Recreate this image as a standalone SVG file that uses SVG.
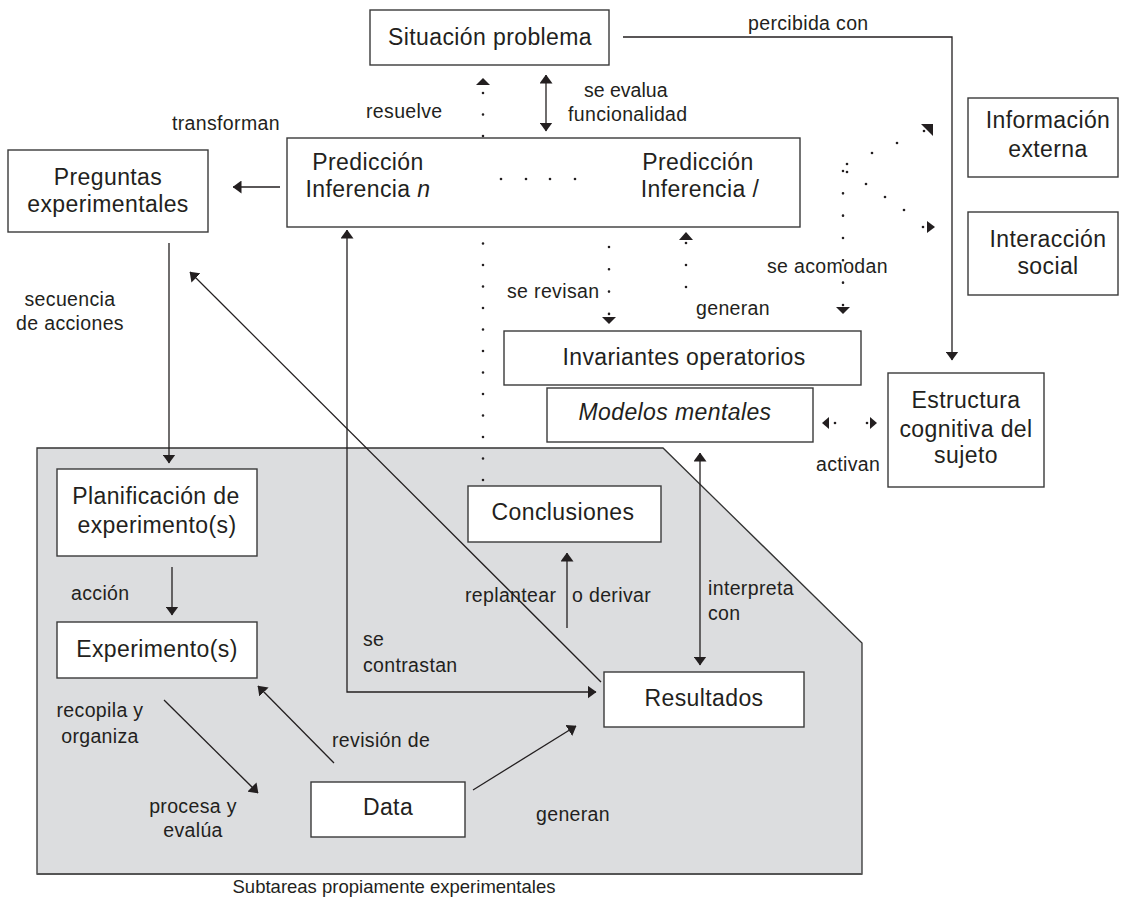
<svg xmlns="http://www.w3.org/2000/svg" width="1128" height="905" viewBox="0 0 1128 905">
<defs>
<marker id="ah" markerUnits="userSpaceOnUse" viewBox="0 0 9 13" markerWidth="9" markerHeight="13" refX="8.5" refY="6.5" orient="auto-start-reverse"><path d="M0,0 L9,6.5 L0,13 z" fill="#231f20"/></marker>
</defs>
<style>
.box{fill:#fff;stroke:#3a3a3a;stroke-width:1.4}
.bt{font-family:"Liberation Sans",Arial,sans-serif;font-size:23px;letter-spacing:0.4px;fill:#231f20;text-anchor:middle}
.lb{font-family:"Liberation Sans",Arial,sans-serif;font-size:19.5px;letter-spacing:0.35px;fill:#231f20}
.ln{fill:none;stroke:#231f20;stroke-width:1.3}
.dl{fill:none;stroke:#231f20;stroke-width:2.6;stroke-linecap:round}
.tri{fill:#231f20}
.dt{fill:#231f20}
</style>
<rect x="0" y="0" width="1128" height="905" fill="#fff"/>
<g id="subtareas-region">
<polygon points="37,448 663,448 862,643 862,874 37,874" fill="#dcdddf" stroke="#333" stroke-width="1.3"/>
<line x1="37" y1="874" x2="862" y2="874" stroke="#555" stroke-width="2"/>
<text class="lb" x="394" y="893" text-anchor="middle" style="font-size:18.5px;letter-spacing:0">Subtareas propiamente experimentales</text>
</g>
<g id="connectors">
<polyline class="ln" points="623,37 952,37 952,360" marker-end="url(#ah)"/>
<line class="ln" x1="280" y1="187" x2="233" y2="187" marker-end="url(#ah)"/>
<line class="ln" x1="169" y1="243" x2="169" y2="463" marker-end="url(#ah)"/>
<line class="ln" x1="601" y1="682" x2="190" y2="272" marker-end="url(#ah)"/>
<path class="ln" d="M347,230 L347,692 L596,692" marker-start="url(#ah)" marker-end="url(#ah)"/>
<line class="ln" x1="172" y1="567" x2="172" y2="615" marker-end="url(#ah)"/>
<line class="ln" x1="334" y1="763" x2="258" y2="686" marker-end="url(#ah)"/>
<line class="ln" x1="164" y1="700" x2="258" y2="793" marker-end="url(#ah)"/>
<line class="ln" x1="473" y1="790" x2="576" y2="726" marker-end="url(#ah)"/>
<line class="ln" x1="700" y1="453" x2="700" y2="665" marker-start="url(#ah)" marker-end="url(#ah)"/>
<line class="ln" x1="567" y1="628" x2="567" y2="553" marker-end="url(#ah)"/>
<line class="ln" x1="546" y1="75" x2="546" y2="131" marker-start="url(#ah)" marker-end="url(#ah)"/>
<line class="dl" x1="483" y1="93" x2="483" y2="481" stroke-dasharray="0 21.5"/>
<polygon class="tri" points="476,85 490,85 483,78"/>
<line class="dl" x1="609" y1="247" x2="609" y2="314" stroke-dasharray="0 22.3"/>
<polygon class="tri" points="602,317 616,317 609,324"/>
<polygon class="tri" points="679,240 693,240 686,232"/>
<line class="dl" x1="686" y1="243" x2="686" y2="309" stroke-dasharray="0 22"/>
<line class="dl" x1="843" y1="171" x2="843" y2="305" stroke-dasharray="0 22.33"/>
<polygon class="tri" points="836,307 850,307 843,314"/>
<circle class="dt" cx="847" cy="164" r="1.3"/>
<circle class="dt" cx="847" cy="172" r="1.3"/>
<circle class="dt" cx="872" cy="153" r="1.3"/>
<circle class="dt" cx="897" cy="143" r="1.3"/>
<circle class="dt" cx="924" cy="131" r="1.3"/>
<polygon class="tri" points="921,124 933,124 933,136"/>
<circle class="dt" cx="866" cy="184" r="1.3"/>
<circle class="dt" cx="885" cy="197" r="1.3"/>
<circle class="dt" cx="904" cy="210" r="1.3"/>
<circle class="dt" cx="923" cy="227" r="1.3"/>
<polygon class="tri" points="927,221 935,227 927,233"/>
<polygon class="tri" points="822,423 829,417 829,429"/>
<circle class="dt" cx="835" cy="423" r="1.3"/>
<circle class="dt" cx="867" cy="423" r="1.3"/>
<polygon class="tri" points="870,417 877,423 870,429"/>
</g>
<g id="labels">
<text class="lb" x="748" y="30">percibida con</text>
<text class="lb" x="584" y="97" style="letter-spacing:0">se evalua</text>
<text class="lb" x="568" y="121">funcionalidad</text>
<text class="lb" x="366" y="118">resuelve</text>
<text class="lb" x="172" y="130">transforman</text>
<text class="lb" x="70" y="306" text-anchor="middle">secuencia</text>
<text class="lb" x="70" y="330" text-anchor="middle">de acciones</text>
<text class="lb" x="507" y="298">se revisan</text>
<text class="lb" x="696" y="315">generan</text>
<text class="lb" x="767" y="273">se acomodan</text>
<text class="lb" x="816" y="471">activan</text>
<text class="lb" x="71" y="600">acción</text>
<text class="lb" x="363" y="646">se</text>
<text class="lb" x="363" y="672">contrastan</text>
<text class="lb" x="100" y="717" text-anchor="middle">recopila y</text>
<text class="lb" x="100" y="743" text-anchor="middle">organiza</text>
<text class="lb" x="193" y="813" text-anchor="middle">procesa y</text>
<text class="lb" x="193" y="837" text-anchor="middle">evalúa</text>
<text class="lb" x="332" y="747">revisión de</text>
<text class="lb" x="536" y="821">generan</text>
<text class="lb" x="465" y="602">replantear</text>
<text class="lb" x="572" y="602">o derivar</text>
<text class="lb" x="708" y="595">interpreta</text>
<text class="lb" x="708" y="620">con</text>
</g>
<g id="situacion-problema">
<rect class="box" x="370" y="10" width="239" height="55"/>
<text class="bt" x="490" y="45">Situación problema</text>
</g>
<g id="prediccion-inferencia">
<rect class="box" x="287" y="138" width="513" height="89"/>
<text class="bt" x="368" y="170">Predicción</text>
<text class="bt" x="368" y="197">Inferencia <tspan font-style="italic">n</tspan></text>
<circle class="dt" cx="501" cy="179" r="1.3"/>
<circle class="dt" cx="526" cy="179" r="1.3"/>
<circle class="dt" cx="550" cy="179" r="1.3"/>
<circle class="dt" cx="575" cy="179" r="1.3"/>
<text class="bt" x="698" y="170">Predicción</text>
<text class="bt" x="700" y="197">Inferencia /</text>
</g>
<g id="preguntas-experimentales">
<rect class="box" x="8" y="150" width="200" height="82"/>
<text class="bt" x="108" y="185">Preguntas</text>
<text class="bt" x="108" y="212">experimentales</text>
</g>
<g id="informacion-externa">
<rect class="box" x="968" y="98" width="150" height="79"/>
<text class="bt" x="1048" y="128">Información</text>
<text class="bt" x="1048" y="157">externa</text>
</g>
<g id="interaccion-social">
<rect class="box" x="968" y="212" width="150" height="83"/>
<text class="bt" x="1048" y="247">Interacción</text>
<text class="bt" x="1048" y="274">social</text>
</g>
<g id="estructura-cognitiva">
<rect class="box" x="888" y="373" width="156" height="114"/>
<text class="bt" x="966" y="408">Estructura</text>
<text class="bt" x="966" y="437">cognitiva del</text>
<text class="bt" x="966" y="463">sujeto</text>
</g>
<g id="invariantes-operatorios">
<rect class="box" x="504" y="331" width="357" height="54"/>
<text class="bt" x="684" y="365">Invariantes operatorios</text>
</g>
<g id="modelos-mentales">
<rect class="box" x="547" y="388" width="266" height="54"/>
<text class="bt" x="675" y="420" font-style="italic">Modelos mentales</text>
</g>
<g id="planificacion">
<rect class="box" x="57" y="469" width="200" height="87"/>
<text class="bt" x="156" y="504">Planificación de</text>
<text class="bt" x="157" y="533">experimento(s)</text>
</g>
<g id="experimentos">
<rect class="box" x="57" y="622" width="200" height="56"/>
<text class="bt" x="157" y="657">Experimento(s)</text>
</g>
<g id="conclusiones">
<rect class="box" x="468" y="486" width="193" height="56"/>
<text class="bt" x="563" y="520">Conclusiones</text>
</g>
<g id="resultados">
<rect class="box" x="604" y="672" width="200" height="55"/>
<text class="bt" x="704" y="706">Resultados</text>
</g>
<g id="data">
<rect class="box" x="311" y="782" width="154" height="55"/>
<text class="bt" x="388" y="815">Data</text>
</g>
</svg>
